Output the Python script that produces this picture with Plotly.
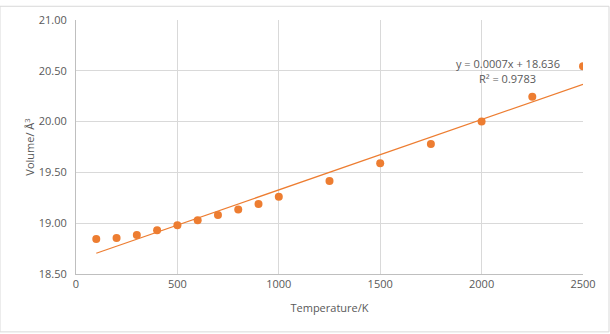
import numpy as np
import plotly.graph_objects as go

temperature = [100, 200, 300, 400, 500, 600, 700, 800, 900, 1000, 1250, 1500, 1750, 2000, 2250, 2500]
volume = [18.845, 18.855, 18.885, 18.93, 18.98, 19.03, 19.08, 19.135, 19.19, 19.26, 19.415, 19.59, 19.78, 20.00, 20.245, 20.545]
eq_text = "y = 0.0007x + 18.636"
r2_text = "R² = 0.9783"

slope, intercept = np.polyfit(temperature, volume, 1)
tx = [min(temperature), max(temperature)]
ty = [slope * t + intercept for t in tx]

orange = "#ED7D31"
font = "Open Sans"
grey = "#595959"

fig = go.Figure()
fig.add_trace(go.Scatter(x=tx, y=ty, mode="lines", line=dict(color=orange, width=1.2), hoverinfo="skip"))
fig.add_trace(go.Scatter(x=temperature, y=volume, mode="markers", marker=dict(color=orange, size=8)))

fig.update_layout(
    width=610, height=334,
    margin=dict(l=76, r=27, t=15, b=60),
    paper_bgcolor="white", plot_bgcolor="white",
    showlegend=False,
    font=dict(family=font, size=11, color=grey),
    xaxis=dict(range=[0, 2500], tickvals=[0, 500, 1000, 1500, 2000, 2500],
               showgrid=True, gridcolor="#d9d9d9", gridwidth=1,
               showline=True, linecolor="#bfbfbf", linewidth=1, zeroline=False,
               ticks="", title=dict(text="Temperature/K", font=dict(size=11, color=grey), standoff=14),
               tickfont=dict(size=11, color=grey)),
    yaxis=dict(range=[18.5, 21.0], tickvals=[18.5, 19.0, 19.5, 20.0, 20.5, 21.0],
               tickformat=".2f",
               showgrid=True, gridcolor="#d9d9d9", gridwidth=1,
               showline=True, linecolor="#bfbfbf", linewidth=1, zeroline=False,
               ticks="", ticklabelstandoff=6,
               title=dict(text="Volume/ Å<sup>3</sup>", font=dict(size=11, color=grey), standoff=1),
               tickfont=dict(size=11, color=grey)),
    shapes=[dict(type="rect", xref="paper", yref="paper", x0=-76/507, x1=1+26/507,
                 y0=-59/259, y1=1+14/259, line=dict(color="#d9d9d9", width=1))],
)
fig.add_annotation(x=2130, y=20.57, text=eq_text, showarrow=False, font=dict(size=11, color=grey))
fig.add_annotation(x=2130, y=20.425, text=r2_text, showarrow=False, font=dict(size=11, color=grey))

fig.write_html("out.html")
